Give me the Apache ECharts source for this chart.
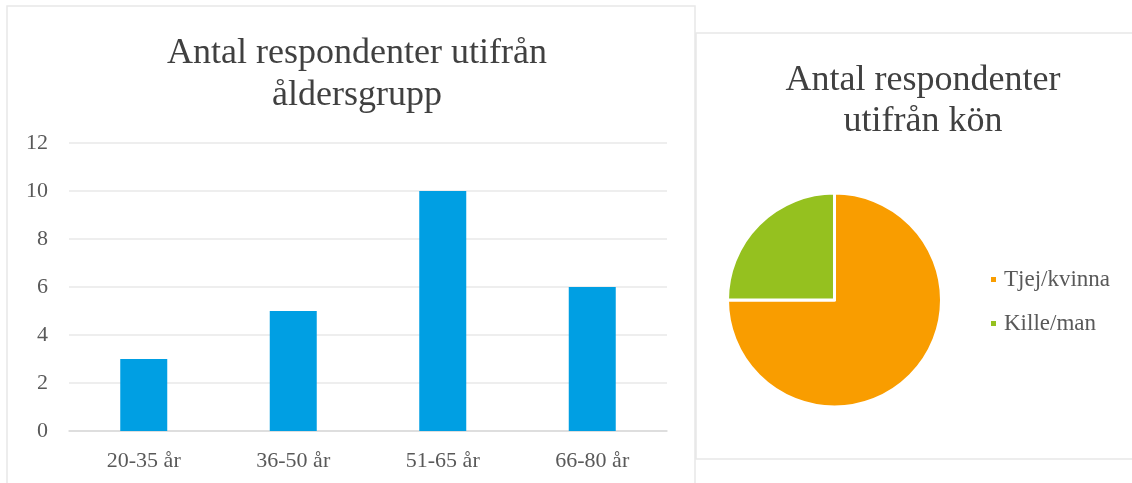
<!DOCTYPE html>
<html>
<head>
<meta charset="utf-8">
<script src="https://cdn.jsdelivr.net/npm/echarts@6/dist/echarts.min.js"></script>
<style>
  html, body { margin: 0; padding: 0; background: #fff; }
  #chart { width: 1132px; height: 483px; }
</style>
</head>
<body>
<div id="chart"></div>
<script>
  // åldersgrupper
  var ageGroups = ['20-35 år', '36-50 år', '51-65 år', '66-80 år']
  var ageCounts = [3, 5, 10, 6]
  // kön
  var genders = ['Tjej/kvinna', 'Kille/man']
  var genderCounts = [18, 6]
  var yTicks = { min: 0, max: 12, interval: 2 }

  var serif = '"Liberation Serif", "DejaVu Serif", serif'
  var chart = echarts.init(document.getElementById('chart'))

  var option = {
    animation: false,
    textStyle: { fontFamily: serif },
    graphic: [
      // ram runt vänster diagram
      { type: 'rect', shape: { x: 7, y: 6, width: 688, height: 500 },
        style: { fill: '#fff', stroke: '#e8e8e8', lineWidth: 1.5 }, z: -10 },
      // ram runt höger diagram
      { type: 'rect', shape: { x: 696, y: 33, width: 460, height: 426 },
        style: { fill: '#fff', stroke: '#e8e8e8', lineWidth: 1.5 }, z: -9 }
    ],
    title: [
      {
        text: 'Antal respondenter utifrån\nåldersgrupp',
        left: 352, top: 28, textAlign: 'center',
        textStyle: { fontFamily: serif, fontSize: 36, fontWeight: 'normal', color: '#404040', lineHeight: 42 }
      },
      {
        text: 'Antal respondenter\nutifrån kön',
        left: 918, top: 55, textAlign: 'center',
        textStyle: { fontFamily: serif, fontSize: 36, fontWeight: 'normal', color: '#404040', lineHeight: 41 }
      }
    ],
    legend: {
      data: genders,
      orient: 'vertical',
      left: 989, top: 268, padding: 0,
      icon: 'rect', itemWidth: 7, itemHeight: 7, itemGap: 21,
      selectedMode: false,
      textStyle: { fontFamily: serif, fontSize: 23, color: '#595959', lineHeight: 22, padding: [0, 0, 0, 2] }
    },
    grid: { left: 69, right: 465, top: 143, bottom: 52 },
    xAxis: {
      type: 'category',
      data: ageGroups,
      axisLine: { lineStyle: { color: '#d9d9d9', width: 1.5 } },
      axisTick: { show: false },
      axisLabel: { fontFamily: serif, fontSize: 22, color: '#595959', margin: 19 }
    },
    yAxis: {
      type: 'value',
      min: yTicks.min, max: yTicks.max, interval: yTicks.interval,
      axisLine: { show: false },
      axisTick: { show: false },
      splitLine: { lineStyle: { color: '#e8e8e8', width: 1.5 } },
      axisLabel: { fontFamily: serif, fontSize: 22, color: '#595959', margin: 21 }
    },
    series: [
      {
        name: 'Antal',
        type: 'bar',
        data: ageCounts,
        barWidth: 47,
        itemStyle: { color: '#009fe3' }
      },
      {
        name: 'Kön',
        type: 'pie',
        center: [834.5, 300],
        radius: 107,
        startAngle: 90,
        clockwise: true,
        label: { show: false },
        labelLine: { show: false },
        emphasis: { disabled: true },
        itemStyle: { borderColor: '#fff', borderWidth: 3 },
        data: genders.map(function (g, i) {
          return { name: g, value: genderCounts[i], itemStyle: { color: ['#f99d00', '#95c11f'][i] } }
        })
      }
    ]
  }

  chart.setOption(option)
</script>
</body>
</html>
